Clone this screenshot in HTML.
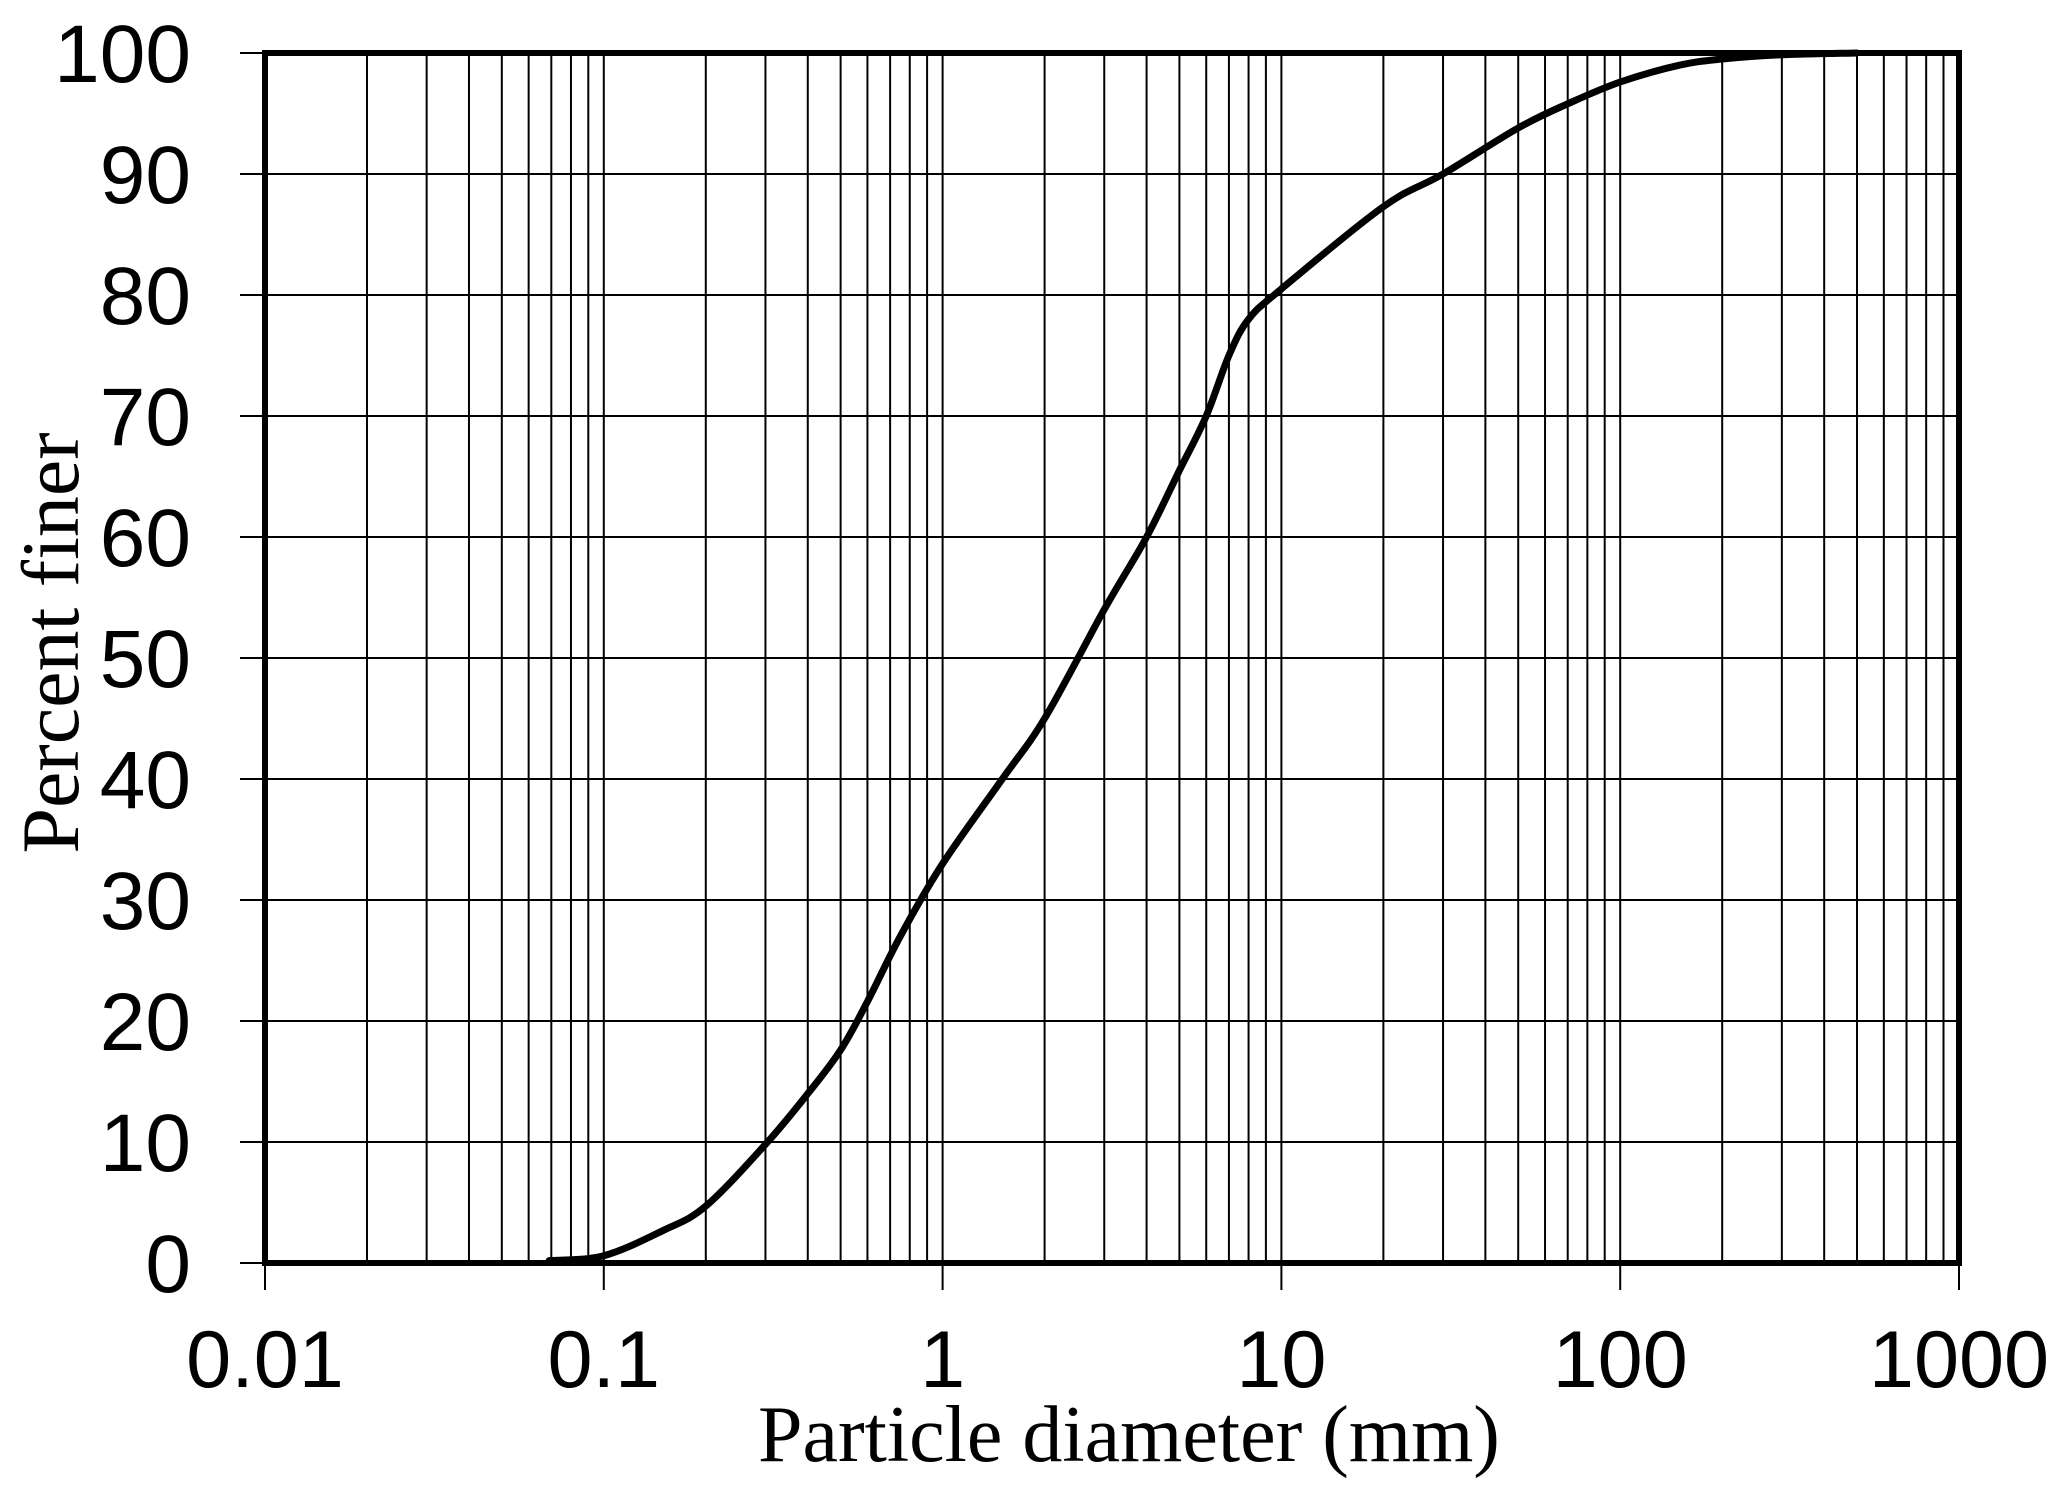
<!DOCTYPE html>
<html><head><meta charset="utf-8"><style>
html,body{margin:0;padding:0;background:#fff;}
svg{display:block;}
</style></head><body>
<svg id="c" width="2067" height="1503" xmlns="http://www.w3.org/2000/svg"></svg>
<script>
const L=265,R=1959,T=53,B=1263;
const dec=(R-L)/5;
const X=v=>L+(Math.log10(v)+2)*dec;
const Y=p=>B-(p/100)*(B-T);
let s='';
for(let e=-2;e<3;e++){for(let m=1;m<10;m++){const x=X(m*Math.pow(10,e));s+=`<line x1="${x}" y1="${T}" x2="${x}" y2="${B}" stroke="#000" stroke-width="2"/>`;}}
for(let p=0;p<=100;p+=10){const y=Y(p);s+=`<line x1="240" y1="${y}" x2="${R}" y2="${y}" stroke="#000" stroke-width="2"/>`;
s+=`<text x="191" y="${y+29}" text-anchor="end" font-family="Liberation Sans, sans-serif" font-size="82">${p}</text>`;}
const labs=['0.01','0.1','1','10','100','1000'];
for(let i=0;i<6;i++){const x=L+i*dec;s+=`<line x1="${x}" y1="${B}" x2="${x}" y2="1290" stroke="#000" stroke-width="2"/>`;
s+=`<text x="${x}" y="1387" text-anchor="middle" font-family="Liberation Sans, sans-serif" font-size="81">${labs[i]}</text>`;}
s+=`<rect x="${L}" y="${T}" width="${R-L}" height="${B-T}" fill="none" stroke="#000" stroke-width="6"/>`;
const pts=[[0.069,0.2],[0.1,0.6],[0.15,2.7],[0.2,4.7],[0.3,9.8],[0.4,14],[0.5,17.6],[0.6,21.6],[0.75,27],[1,33],[1.5,40],[2,45],[3,54],[4,60],[5,65.5],[6,70],[7,75],[8,78],[10,80.5],[20,87.3],[30,90],[50,93.8],[70,95.8],[100,97.6],[150,99],[200,99.5],[300,99.85],[500,100]];
const P=pts.map(p=>[X(p[0]),Y(p[1])]);
let d=`M${P[0][0].toFixed(1)},${P[0][1].toFixed(1)}`;
for(let i=0;i<P.length-1;i++){const p0=P[Math.max(0,i-1)],p1=P[i],p2=P[i+1],p3=P[Math.min(P.length-1,i+2)];
const c1=[p1[0]+(p2[0]-p0[0])/6,p1[1]+(p2[1]-p0[1])/6],c2=[p2[0]-(p3[0]-p1[0])/6,p2[1]-(p3[1]-p1[1])/6];
d+=` C${c1[0].toFixed(1)},${c1[1].toFixed(1)} ${c2[0].toFixed(1)},${c2[1].toFixed(1)} ${p2[0].toFixed(1)},${p2[1].toFixed(1)}`;}
s+=`<path d="${d}" fill="none" stroke="#000" stroke-width="7" stroke-linejoin="round" stroke-linecap="round"/>`;
s+=`<text x="1129" y="1461" text-anchor="middle" font-family="Liberation Serif, serif" font-size="80">Particle diameter (mm)</text>`;
s+=`<text transform="translate(78,643) rotate(-90)" text-anchor="middle" font-family="Liberation Serif, serif" font-size="82">Percent finer</text>`;
document.getElementById('c').innerHTML=s;
</script>
</body></html>
